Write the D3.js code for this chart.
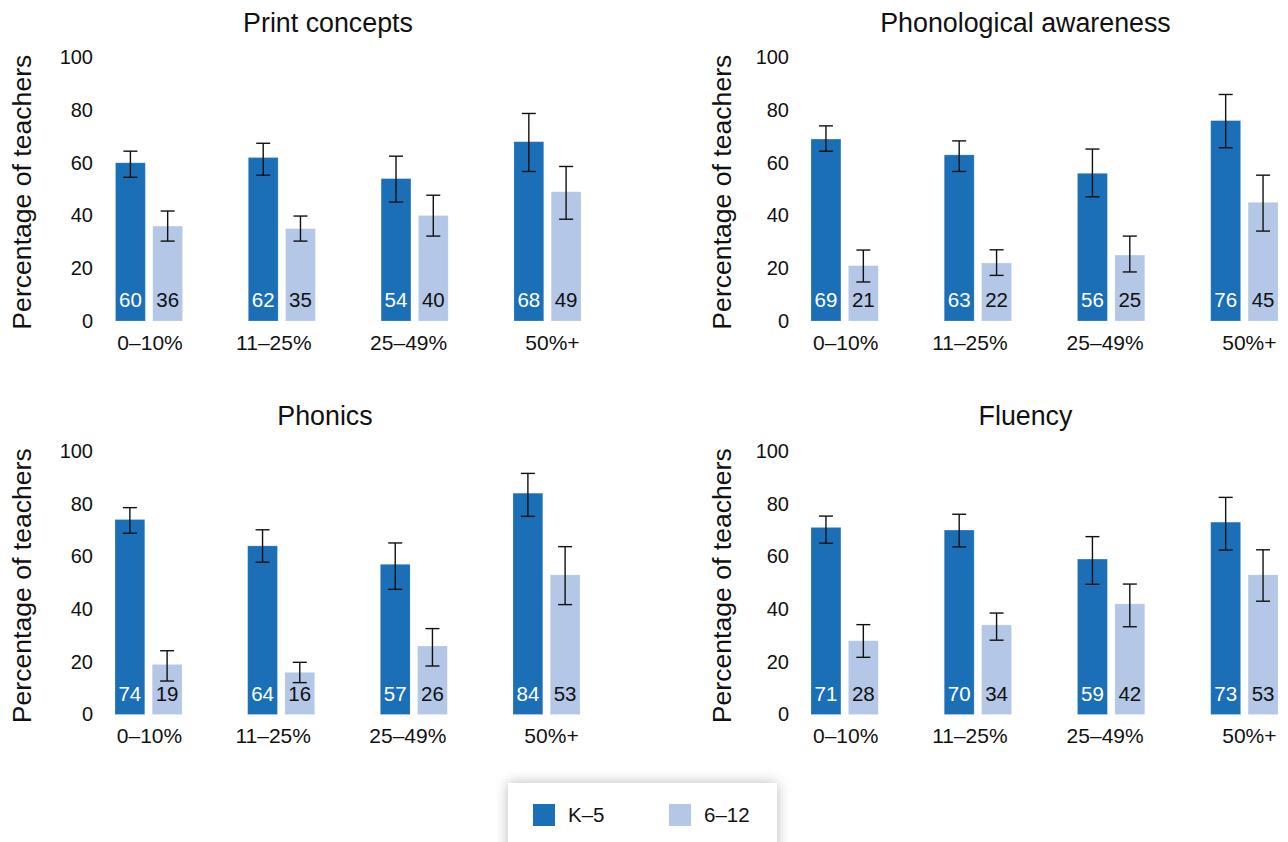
<!DOCTYPE html>
<html>
<head>
<meta charset="utf-8">
<script src="https://cdn.jsdelivr.net/npm/d3@7"></script>
<style>
  body { margin: 0; background: #fff; }
  svg { display: block; font-family: "Liberation Sans", Arial, Helvetica, sans-serif; }
</style>
</head>
<body>
<div id="chart"></div>
<script>
// categories and series
var categories = ['0–10%', '11–25%', '25–49%', '50%+'];
var seriesNames = ['K–5', '6–12'];
var panelTitles = ['Print concepts', 'Phonological awareness', 'Phonics', 'Fluency'];
var yTicks = [0, 20, 40, 60, 80, 100];

// values per panel (K–5 then 6–12)
var printK5 = [60, 62, 54, 68];
var print612 = [36, 35, 40, 49];
var phonoK5 = [69, 63, 56, 76];
var phono612 = [21, 22, 25, 45];
var phonicsK5 = [74, 64, 57, 84];
var phonics612 = [19, 16, 26, 53];
var fluencyK5 = [71, 70, 59, 73];
var fluency612 = [28, 34, 42, 53];

// error bar ranges [low, high]
var printK5Err = [[54.5, 64.4], [55.3, 67.4], [45.1, 62.5], [56.7, 78.7]];
var print612Err = [[30.3, 41.7], [30.3, 39.8], [32.2, 47.7], [38.6, 58.6]];
var phonoK5Err = [[64.4, 74.0], [56.7, 68.3], [47.1, 65.2], [65.7, 85.9]];
var phono612Err = [[14.8, 26.9], [17.3, 27.0], [18.6, 32.2], [34.1, 55.3]];
var phonicsK5Err = [[68.8, 78.5], [57.8, 70.1], [47.5, 65.1], [75.2, 91.5]];
var phonics612Err = [[12.7, 24.2], [12.1, 19.8], [18.4, 32.6], [41.7, 63.7]];
var fluencyK5Err = [[65.0, 75.3], [63.6, 76.0], [49.4, 67.5], [62.4, 82.4]];
var fluency612Err = [[21.7, 34.1], [28.2, 38.5], [33.3, 49.5], [43.0, 62.5]];

var panelValues = [
    [printK5, print612], [phonoK5, phono612],
    [phonicsK5, phonics612], [fluencyK5, fluency612]
];
var panelErrors = [
    [printK5Err, print612Err], [phonoK5Err, phono612Err],
    [phonicsK5Err, phonics612Err], [fluencyK5Err, fluency612Err]
];

var colors = ['#1b6fb7', '#b4c7e7'];
var labelColors = ['#fff', '#111'];
var textColor = '#111';

var W = 1288, H = 842;

// layout for each panel: x range of bars, y baseline/top, axis label positions
var layout = [
    {x0: 115.5, x1: 581, yBase: 321, yTop: 57.3, tickX: 93, titleX: 328, axisTitleX: 31},
    {x0: 811, x1: 1278, yBase: 321, yTop: 57.3, tickX: 789, titleX: 1025.5, axisTitleX: 731},
    {x0: 115, x1: 580, yBase: 714.5, yTop: 451, tickX: 93, titleX: 325, axisTitleX: 31},
    {x0: 811, x1: 1278, yBase: 714.5, yTop: 451, tickX: 789, titleX: 1025.5, axisTitleX: 731}
];
// category labels are not exactly centred under their groups in the original
var catShift = [1, -8, -6, 5];

var svg = d3.select('#chart').append('svg')
    .attr('width', W)
    .attr('height', H);

svg.append('rect').attr('width', W).attr('height', H).attr('fill', '#fff');

var defs = svg.append('defs');
var shadow = defs.append('filter').attr('id', 'shadow')
    .attr('x', '-20%').attr('y', '-50%').attr('width', '140%').attr('height', '200%');
shadow.append('feGaussianBlur').attr('in', 'SourceAlpha').attr('stdDeviation', 7);
shadow.append('feComponentTransfer').append('feFuncA').attr('type', 'linear').attr('slope', 0.28);
var merge = shadow.append('feMerge');
merge.append('feMergeNode');
merge.append('feMergeNode').attr('in', 'SourceGraphic');

panelTitles.forEach(function (title, p) {
    var L = layout[p];
    var g = svg.append('g');

    var y = d3.scaleLinear().domain([0, 100]).range([L.yBase, L.yTop]);
    var x0 = d3.scaleBand().domain(categories).range([L.x0, L.x1])
        .paddingInner(0.495).paddingOuter(0);
    var x1 = d3.scaleBand().domain(seriesNames).range([0, x0.bandwidth()])
        .paddingInner(0.2).paddingOuter(0);

    // title
    g.append('text')
        .attr('x', L.titleX)
        .attr('y', L.yBase - 289.5)
        .attr('text-anchor', 'middle')
        .attr('font-size', 26.8)
        .attr('fill', textColor)
        .text(title);

    // y axis title
    g.append('text')
        .attr('transform', 'translate(' + L.axisTitleX + ',' + ((L.yBase + L.yTop) / 2 + 3) + ') rotate(-90)')
        .attr('text-anchor', 'middle')
        .attr('font-size', 26.6)
        .attr('fill', textColor)
        .text('Percentage of teachers');

    // y axis
    var yAxis = g.append('g')
        .attr('transform', 'translate(' + L.tickX + ',0)')
        .call(d3.axisLeft(y).tickValues(yTicks).tickSize(0).tickPadding(0));
    yAxis.select('.domain').remove();
    yAxis.selectAll('text')
        .attr('font-size', 20)
        .attr('font-family', null)
        .attr('fill', textColor);

    // x axis (category labels)
    var xAxis = g.append('g')
        .attr('transform', 'translate(0,' + L.yBase + ')')
        .call(d3.axisBottom(x0).tickSize(0).tickPadding(14));
    xAxis.select('.domain').remove();
    xAxis.selectAll('text')
        .attr('font-size', 21)
        .attr('font-family', null)
        .attr('fill', textColor)
        .attr('dx', function (d, i) { return catShift[i]; });

    seriesNames.forEach(function (s, si) {
        var vals = panelValues[p][si];
        var errs = panelErrors[p][si];
        var sg = g.append('g');

        sg.selectAll('rect')
            .data(vals)
            .join('rect')
            .attr('x', function (d, i) { return x0(categories[i]) + x1(s); })
            .attr('y', function (d) { return y(d); })
            .attr('width', x1.bandwidth())
            .attr('height', function (d) { return y(0) - y(d); })
            .attr('fill', colors[si])
            .attr('stroke', 'rgba(255,255,255,0.25)')
            .attr('stroke-width', 0.8);

        sg.selectAll('text.val')
            .data(vals)
            .join('text')
            .attr('class', 'val')
            .attr('x', function (d, i) { return x0(categories[i]) + x1(s) + x1.bandwidth() / 2; })
            .attr('y', L.yBase - 14)
            .attr('text-anchor', 'middle')
            .attr('font-size', 20.5)
            .attr('fill', labelColors[si])
            .text(function (d) { return d; });

        // error bars
        var eb = sg.selectAll('g.err')
            .data(errs)
            .join('g')
            .attr('class', 'err')
            .attr('transform', function (d, i) {
                return 'translate(' + (x0(categories[i]) + x1(s) + x1.bandwidth() / 2) + ',0)';
            })
            .attr('stroke', '#111')
            .attr('stroke-width', 1.4);
        eb.append('line')
            .attr('x1', 0).attr('x2', 0)
            .attr('y1', function (d) { return y(d[0]); })
            .attr('y2', function (d) { return y(d[1]); });
        eb.append('line')
            .attr('x1', -7).attr('x2', 7)
            .attr('y1', function (d) { return y(d[0]); })
            .attr('y2', function (d) { return y(d[0]); });
        eb.append('line')
            .attr('x1', -7).attr('x2', 7)
            .attr('y1', function (d) { return y(d[1]); })
            .attr('y2', function (d) { return y(d[1]); });
    });
});

// legend
var legend = svg.append('g');
legend.append('rect')
    .attr('x', 508).attr('y', 783)
    .attr('width', 269).attr('height', 80)
    .attr('fill', '#fff')
    .attr('filter', 'url(#shadow)');

var legendX = [533, 669];
seriesNames.forEach(function (s, i) {
    legend.append('rect')
        .attr('x', legendX[i]).attr('y', 804)
        .attr('width', 22).attr('height', 22)
        .attr('fill', colors[i]);
    legend.append('text')
        .attr('x', legendX[i] + 35).attr('y', 822)
        .attr('font-size', 20.5)
        .attr('fill', textColor)
        .text(s);
});
</script>
</body>
</html>
